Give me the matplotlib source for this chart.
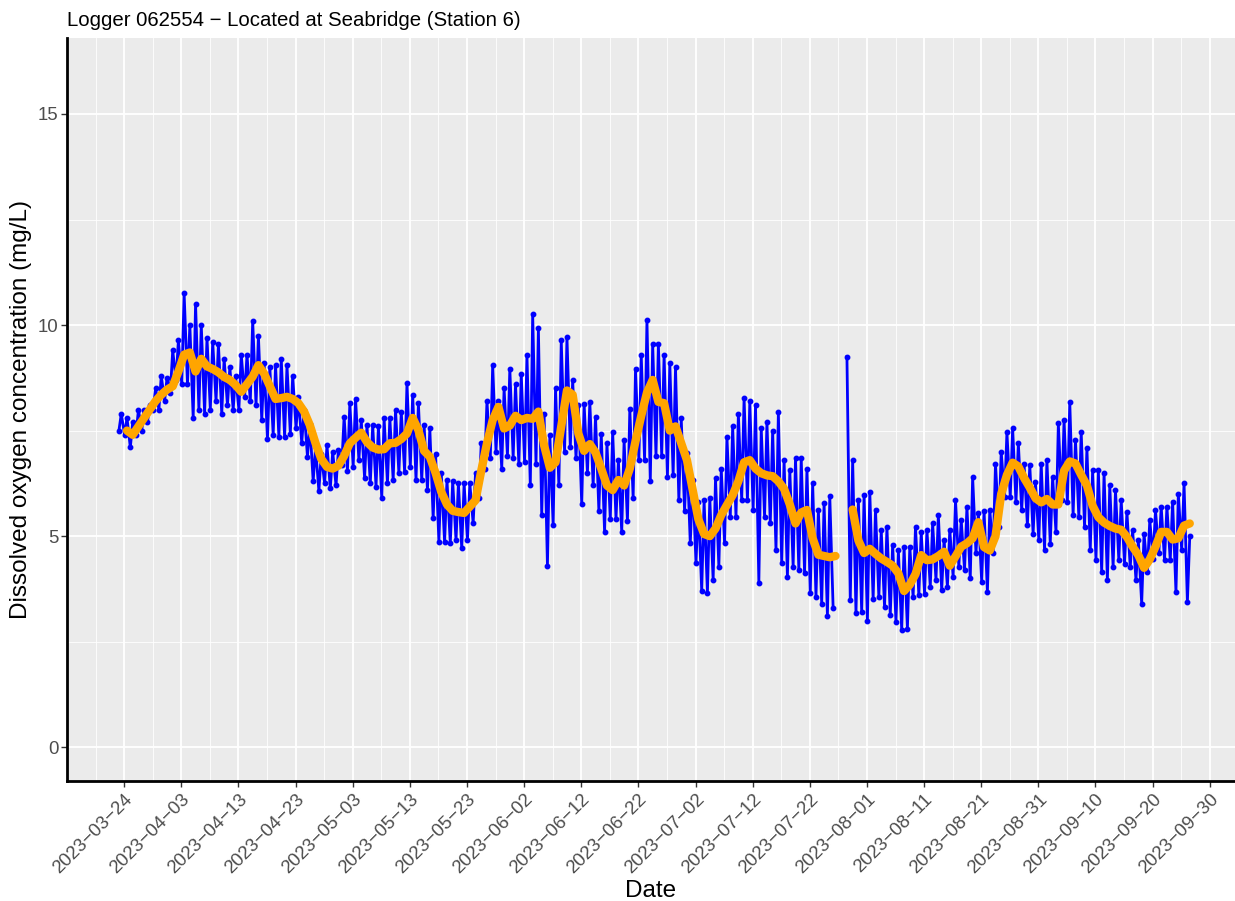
import matplotlib
matplotlib.use("Agg")
import matplotlib.pyplot as plt
import numpy as np
import pandas as pd

plt.rcParams['font.family'] = ['Liberation Sans', 'DejaVu Sans']

# daily low / high of the logger readings (mg/L)
first_day = "2023-03-23"
do_min = [
    7.5, 7.4, 7.1, 7.4, 7.5, 7.7, 8.0, 8.0, 8.2, 8.4,
    8.7, 8.6, 8.6, 7.8, 8.0, 7.9, 8.0, 8.2, 7.9, 8.1,
    8.0, 8.0, 8.3, 8.2, 8.1, 7.75, 7.3, 7.4, 7.35, 7.35,
    7.43, 7.55, 7.2, 6.88, 6.3, 6.07, 6.25, 6.13, 6.2, 6.68,
    6.55, 6.64, 6.8, 6.37, 6.25, 6.17, 5.9, 6.25, 6.33, 6.49,
    6.53, 6.64, 6.33, 6.33, 6.1, 5.42, 4.87, 4.85, 4.83, 4.9,
    4.71, 4.9, 5.3, 5.9, 6.6, 6.86, 7.0, 6.6, 6.9, 6.86,
    6.7, 6.75, 6.2, 6.7, 5.5, 4.3, 5.26, 6.2, 7.0, 7.1,
    6.85, 5.75, 6.5, 6.2, 5.6, 5.1, 5.4, 5.4, 5.1, 5.35,
    5.9, 6.8, 6.8, 6.3, 6.9, 6.9, 6.41, 6.45, 5.85, 5.6,
    4.83, 4.36, 3.7, 3.65, 3.96, 4.28, 4.83, 5.46, 5.46, 5.85,
    5.85, 5.62, 3.9, 5.46, 5.3, 4.67, 4.36, 4.04, 4.28, 4.2,
    4.12, 3.65, 3.57, 3.4, 3.12, 3.3, None, None, 3.48, 3.17,
    3.2, 3.0, 3.5, 3.56, 3.32, 3.13, 2.97, 2.78, 2.81, 3.56,
    3.6, 3.64, 3.8, 3.96, 3.72, 3.8, 4.04, 4.28, 4.2, 4.0,
    4.6, 3.92, 3.68, 4.6, 5.22, 5.93, 5.93, 5.8, 5.62, 5.26,
    5.06, 4.9, 4.67, 4.82, 5.1, 5.85, 5.8, 5.5, 5.46, 5.22,
    4.67, 4.43, 4.15, 3.96, 4.27, 4.43, 4.35, 4.27, 3.96, 3.4,
    4.15, 4.47, 4.59, 4.43, 4.43, 3.67, 4.67, 3.44,
]
do_max = [
    7.9, 7.8, 7.7, 8.0, 8.0, 8.1, 8.5, 8.8, 8.75, 9.4,
    9.65, 10.75, 10.0, 10.5, 10.0, 9.7, 9.6, 9.55, 9.2, 9.0,
    8.8, 9.3, 9.3, 10.1, 9.75, 9.1, 9.0, 9.05, 9.2, 9.05,
    8.8, 8.3, 8.0, 7.65, 7.1, 6.95, 7.15, 7.0, 7.05, 7.83,
    8.15, 8.26, 7.75, 7.63, 7.63, 7.6, 7.79, 7.8, 7.99, 7.95,
    8.62, 8.35, 8.15, 7.63, 7.55, 6.95, 6.5, 6.33, 6.3, 6.25,
    6.25, 6.25, 6.5, 7.2, 8.2, 9.05, 8.2, 8.5, 8.97, 8.6,
    8.85, 9.29, 10.26, 9.92, 7.9, 7.39, 8.5, 9.64, 9.72, 8.69,
    8.1, 8.14, 8.18, 7.83, 7.43, 7.2, 7.47, 6.8, 7.27, 8.02,
    8.97, 9.29, 10.12, 9.56, 9.55, 9.3, 9.1, 9.0, 7.79, 6.96,
    6.33, 5.8, 5.85, 5.9, 6.37, 6.6, 7.35, 7.6, 7.9, 8.27,
    8.2, 8.1, 7.56, 7.7, 7.5, 7.94, 6.8, 6.57, 6.85, 6.85,
    6.6, 6.25, 5.62, 5.78, 5.94, None, None, 9.25, 6.8, 5.86,
    5.97, 6.05, 5.63, 5.15, 5.22, 4.8, 4.67, 4.75, 4.75, 5.22,
    5.1, 5.15, 5.3, 5.5, 4.92, 5.15, 5.86, 5.38, 5.7, 6.4,
    5.55, 5.6, 5.63, 6.72, 7.0, 7.46, 7.56, 7.2, 6.72, 6.68,
    6.29, 6.72, 6.8, 6.4, 7.67, 7.75, 8.18, 7.28, 7.47, 7.09,
    6.57, 6.57, 6.49, 6.21, 6.09, 5.85, 5.57, 5.14, 4.9, 5.06,
    5.38, 5.62, 5.7, 5.7, 5.82, 6.01, 6.25, 5.0,
]

# smoothed (rolling mean) line, one value per day
mean_first_day = "2023-03-24"
do_mean = [
    7.5, 7.4, 7.6, 7.8, 8.0, 8.2, 8.35, 8.47, 8.55, 8.9,
    9.3, 9.35, 8.9, 9.2, 9.02, 8.96, 8.88, 8.77, 8.7, 8.58,
    8.42, 8.6, 8.78, 9.05, 8.85, 8.55, 8.25, 8.27, 8.3, 8.25,
    8.15, 7.95, 7.63, 7.2, 6.83, 6.64, 6.6, 6.67, 6.9, 7.2,
    7.33, 7.45, 7.23, 7.1, 7.05, 7.06, 7.2, 7.21, 7.3, 7.43,
    7.8, 7.51, 7.02, 6.88, 6.5, 6.05, 5.75, 5.6, 5.57, 5.55,
    5.7, 5.85, 6.55, 7.2, 7.75, 8.06, 7.55, 7.62, 7.85, 7.75,
    7.8, 7.78, 7.95, 7.15, 6.62, 6.75, 7.6, 8.45, 8.35, 7.43,
    7.02, 7.18, 6.98, 6.6, 6.2, 6.09, 6.33, 6.2, 6.6, 7.25,
    7.85, 8.4, 8.7, 8.18, 8.15, 7.5, 7.6, 7.2, 6.8, 6.1,
    5.4, 5.05, 5.0, 5.18, 5.5, 5.74, 5.97, 6.3, 6.75, 6.8,
    6.6, 6.49, 6.44, 6.42, 6.3, 6.12, 5.75, 5.3, 5.56, 5.62,
    4.95, 4.56, 4.53, 4.5, 4.53, None, None, 5.63, 4.9, 4.6,
    4.7, 4.58, 4.47, 4.39, 4.3, 4.12, 3.7, 3.85, 4.1, 4.55,
    4.43, 4.45, 4.53, 4.63, 4.3, 4.52, 4.75, 4.83, 4.95, 5.33,
    4.74, 4.66, 5.0, 6.0, 6.45, 6.74, 6.65, 6.38, 6.15, 5.9,
    5.8, 5.88, 5.75, 5.75, 6.55, 6.77, 6.72, 6.45, 6.2, 5.72,
    5.45, 5.32, 5.24, 5.18, 5.15, 4.98, 4.75, 4.55, 4.25, 4.45,
    4.75, 5.1, 5.1, 4.92, 4.95, 5.25, 5.3,
]

title = "Logger 062554 \u2212 Located at Seabridge (Station 6)"
x_title = "Date"
y_title = "Dissolved oxygen concentration (mg/L)"


def to_float(vals):
    return np.array([np.nan if v is None else v for v in vals], dtype=float)


# low in the early morning, high around midday
days = pd.date_range(first_day, periods=len(do_min), freq="D")
times, values = [], []
for day, lo, hi in zip(days, do_min, do_max):
    times += [day + pd.Timedelta(hours=2), day + pd.Timedelta(hours=12)]
    values += [lo, hi]
values = to_float(values)

mean_times = pd.date_range(mean_first_day, periods=len(do_mean), freq="D") + pd.Timedelta(hours=12)
mean_values = to_float(do_mean)

fig = plt.figure(figsize=(12.35, 9.01), dpi=100)
ax = fig.add_axes([67 / 1235, 1 - 781 / 901, 1 - 67 / 1235, (781 - 38) / 901])
ax.set_facecolor('#EBEBEB')

ax.plot(times, values, color='blue', lw=2.0, marker='o', ms=3.2, zorder=2)
ax.plot(mean_times, mean_values, color='orange', lw=6,
        solid_joinstyle='round', solid_capstyle='round', zorder=3)

major_x = pd.date_range("2023-03-24", "2023-09-30", freq="10D")
minor_x = pd.date_range("2023-03-19", "2023-09-25", freq="10D")
ax.set_xticks(major_x)
ax.set_xticklabels([d.strftime("%Y-%m-%d").replace("-", "\u2212") for d in major_x],
                   rotation=45, ha='right', rotation_mode='anchor')
ax.set_xticks(minor_x, minor=True)
ax.set_yticks([0, 5, 10, 15])
ax.set_yticks([2.5, 7.5, 12.5], minor=True)

ax.set_xlim(pd.Timestamp("2023-03-14"), pd.Timestamp("2023-10-04 10:00"))
ax.set_ylim(-0.8, 16.8)

ax.set_axisbelow(True)
ax.grid(which='major', color='white', lw=1.3)
ax.grid(which='minor', color='white', lw=0.6)
ax.tick_params(which='minor', length=0)
ax.tick_params(which='major', length=4, width=1, color='#333333',
               labelcolor='#4D4D4D', labelsize=13.4)
ax.tick_params(axis='y', which='major', pad=2)
ax.tick_params(axis='x', which='major', pad=3)

for side in ['top', 'right']:
    ax.spines[side].set_visible(False)
for side in ['left', 'bottom']:
    ax.spines[side].set_color('black')
    ax.spines[side].set_linewidth(2)

ax.set_title(title, loc='left', fontsize=14.7, pad=9)
ax.set_xlabel(x_title, fontsize=17.5, labelpad=2)
ax.set_ylabel(y_title, fontsize=17.5, labelpad=4)

fig.savefig("out.png", dpi=100)
